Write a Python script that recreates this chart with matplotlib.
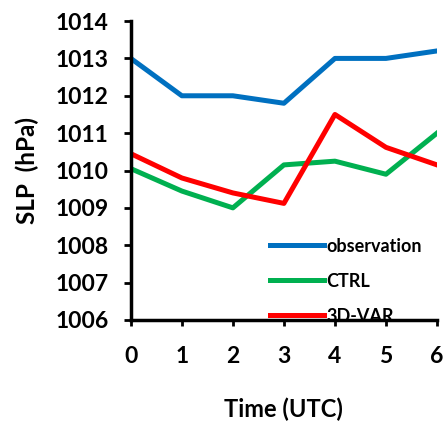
import matplotlib
matplotlib.use('Agg')
import matplotlib.pyplot as plt

# SLP time series
hours = [0, 1, 2, 3, 4, 5, 6]
observation = [1013.0, 1012.0, 1012.0, 1011.8, 1013.0, 1013.0, 1013.2]
ctrl = [1010.05, 1009.45, 1009.0, 1010.15, 1010.25, 1009.9, 1011.0]
var3d = [1010.45, 1009.8, 1009.4, 1009.12, 1011.5, 1010.62, 1010.15]
yticks = [1006, 1007, 1008, 1009, 1010, 1011, 1012, 1013, 1014]

plt.rcParams['font.family'] = ['Lato', 'DejaVu Sans']
plt.rcParams['font.weight'] = 'bold'

fig = plt.figure(figsize=(4.45, 4.21), dpi=100)
ax = fig.add_axes([0.294, 0.240, 0.688, 0.710])

lw = 3.6
ax.plot(hours, observation, color='#0070C0', lw=lw, label='observation')
ax.plot(hours, ctrl, color='#00B050', lw=lw, label='CTRL')
ax.plot(hours, var3d, color='#FF0000', lw=lw, label='3D-VAR')

ax.set_xlim(0, 6)
ax.set_ylim(1006, 1014)
ax.set_xticks(hours)
ax.set_yticks(yticks)
ax.tick_params(labelsize=16.5, width=2)
ax.tick_params(axis='y', length=5, pad=11)
ax.tick_params(axis='x', length=4.5, pad=14)
for lab in ax.get_xticklabels() + ax.get_yticklabels():
    lab.set_fontweight('bold')

for s in ['top', 'right']:
    ax.spines[s].set_visible(False)
for s in ['left', 'bottom']:
    ax.spines[s].set_linewidth(2.5)

ax.set_ylabel('SLP  (hPa)', fontsize=17.5, fontweight='bold', labelpad=12)
ax.set_xlabel('Time (UTC)', fontsize=17, fontweight='bold', labelpad=22)

leg = ax.legend(loc='upper left', bbox_to_anchor=(0.43, 0.30), frameon=False,
                fontsize=13, handlelength=3.0, handletextpad=0.15,
                labelspacing=1.0, borderaxespad=0)
for t in leg.get_texts():
    t.set_fontweight('bold')

fig.savefig('out.png', dpi=100)
